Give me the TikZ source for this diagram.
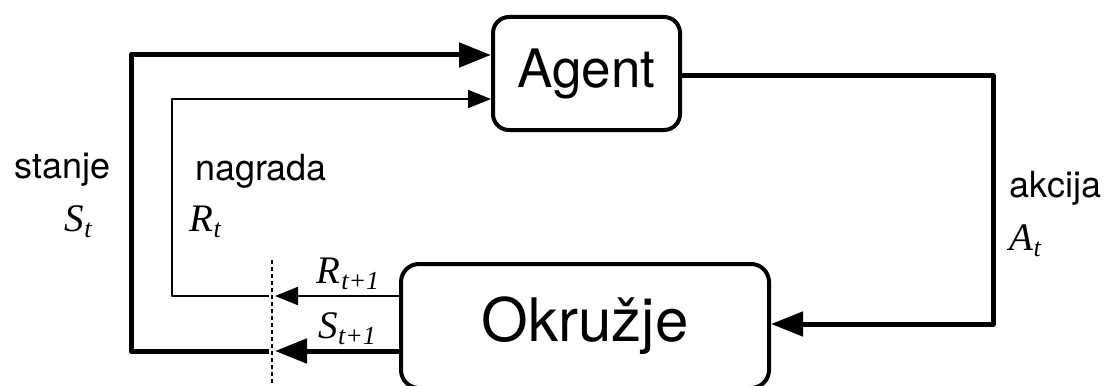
\documentclass[tikz,border=0pt]{standalone}
\usepackage{fontspec}
\setmainfont{TeX Gyre Heros}
\newfontfamily\varfont{Liberation Serif}
\usetikzlibrary{arrows.meta}

% italic variable with a lowered index
\newcommand{\varlab}[2]{{\varfont\itshape\fontsize{19.5}{22}\selectfont #1}\kern0.3pt\raisebox{-3.4pt}{\varfont\itshape\fontsize{13}{14}\selectfont #2}}

\begin{document}
\begin{tikzpicture}[
  x=0.5pt, y=-0.5pt,
  box/.style={draw, line width=2pt, rounded corners=8pt, align=center},
  bigflow/.style={line width=2.5pt, line join=round, -{Triangle[length=16pt, width=12pt]}},
  smallflow/.style={line width=1pt, line join=round, -{Triangle[length=11.5pt, width=9pt]}},
  cutline/.style={line width=0.7pt, dash pattern=on 2pt off 1.5pt},
  lab/.style={anchor=base, inner sep=0pt, font=\fontsize{18}{20}\selectfont}
]
\useasboundingbox (0,0) rectangle (1111,385);

\node[box, minimum width=93.5pt, minimum height=56.5pt, font=\fontsize{26.5}{30}\selectfont] (agent) at (586.5,73.5) {Agent};
\node[box, minimum width=184pt, minimum height=62pt, rounded corners=9pt, font=\fontsize{30}{34}\selectfont] (env) at (585,326) {Okružje};

\coordinate (sIn) at (269,351);
\coordinate (sTop) at (131,55);
\coordinate (sCut) at (275,351);
\coordinate (rIn) at (269,296);
\coordinate (rTop) at (172,99);
\coordinate (rCut) at (275,296);
\coordinate (aTurn) at (993,76);
\coordinate (aLow) at (993,324);
\coordinate (cutTop) at (272,260);
\coordinate (cutBot) at (272,385);

% feedback to the agent
\draw[bigflow] (sIn) -| (sTop) -- (agent.west |- sTop);
\draw[smallflow] (rIn) -| (rTop) -- (agent.west |- rTop);

% from the environment
\draw[bigflow] (env.west |- sIn) -- (sCut);
\draw[smallflow] (env.west |- rIn) -- (rCut);
\draw[cutline] (cutTop) -- (cutBot);

% action
\draw[bigflow] (agent.east |- aTurn) -| (aLow) -- (env.east |- aLow);

\node[lab] (stanje) at (62.5,178) {stanje};
\node[lab] (st) at (78,231) {\varlab{S}{t}};
\node[lab] (nagrada) at (261,180) {nagrada};
\node[lab] (rt) at (205,231) {\varlab{R}{t}};
\node[lab] (akcija) at (1055,197) {akcija};
\node[lab] (at) at (1025,250) {\varlab{A}{t}};
\node[lab] (rnext) at (348,283) {\varlab{R}{t+1}};
\node[lab] (snext) at (347,338) {\varlab{S}{t+1}};
\end{tikzpicture}
\end{document}
